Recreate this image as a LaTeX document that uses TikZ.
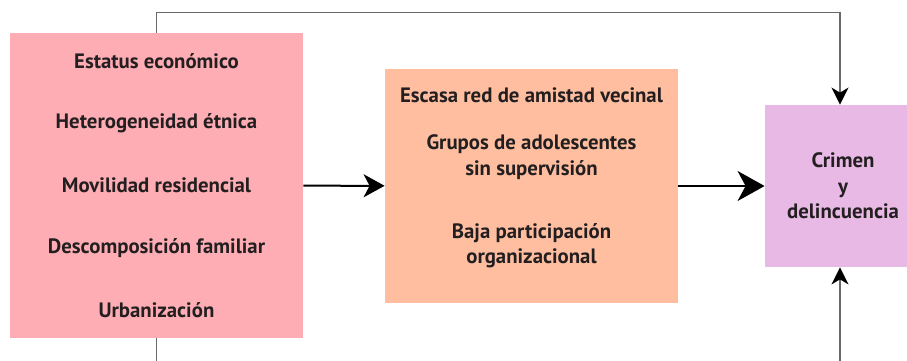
\documentclass[tikz,border=0pt]{standalone}
\usepackage{fontspec}
\setmainfont{PT Sans}
\usetikzlibrary{arrows.meta}

\definecolor{boxpink}{RGB}{255,173,180}
\definecolor{boxorange}{RGB}{255,190,160}
\definecolor{boxviolet}{RGB}{233,185,229}
\definecolor{linegray}{RGB}{105,105,105}
\definecolor{textdark}{RGB}{35,31,32}

\begin{document}
\begin{tikzpicture}[x=0.5pt,y=-0.5pt,
    areabox/.style={inner sep=0pt, draw=none},
    boxtext/.style={font=\bfseries\fontsize{10.4}{12.75}\selectfont, align=center, text=textdark},
    mainarrow/.style={-{Stealth[length=10.5pt,width=11.5pt,inset=3pt]}, line width=1pt},
    bigarrow/.style={-{Stealth[length=13.5pt,width=15pt,inset=4pt]}, line width=1pt},
    backline/.style={-{Stealth[length=8.5pt,width=8.5pt,inset=2.5pt,color=black]}, line width=0.9pt, draw=linegray}]
    \useasboundingbox (0,0) rectangle (907,360);

    % Draw boxes
    \node[areabox, fill=boxpink, minimum width=146.5pt, minimum height=152.5pt] (causes) at (156.5,185.5) {};
    \node[areabox, fill=boxorange, minimum width=146.5pt, minimum height=117pt] (ties) at (531.5,186) {};
    \node[areabox, fill=boxviolet, minimum width=78pt, minimum height=81pt] (crime) at (843,186) {};

    % Left box texts
    \foreach \txt [count=\i] in {Estatus económico, Heterogeneidad étnica, Movilidad residencial,
                                 Descomposición familiar, Urbanización}
      \node[boxtext] (cause\i) at (156.5,{61+62.2*(\i-1)}) {\txt};

    % Middle box texts
    \node[boxtext] (ties1) at (531.5,95) {Escasa red de amistad vecinal};
    \node[boxtext] (ties2) at (531.5,157) {Grupos de adolescentes\\sin supervisión};
    \node[boxtext] (ties3) at (531.5,245.5) {Baja participación\\organizacional};

    % Right box text
    \node[boxtext] (crimetext) at (843,186) {Crimen\\y\\delincuencia};

    % Draw arrows
    \draw[mainarrow] (causes) -- (ties);
    \draw[bigarrow] (ties) -- (crime);

    % Draw lines around
    \coordinate (topturn) at (840,12.5);
    \coordinate (bottomturn) at (840,390);
    \draw[backline] (causes.north) |- (topturn) -- (topturn |- crime.north);
    \draw[backline] (causes.south) |- (bottomturn) -- (bottomturn |- crime.south);

\end{tikzpicture}
\end{document}
